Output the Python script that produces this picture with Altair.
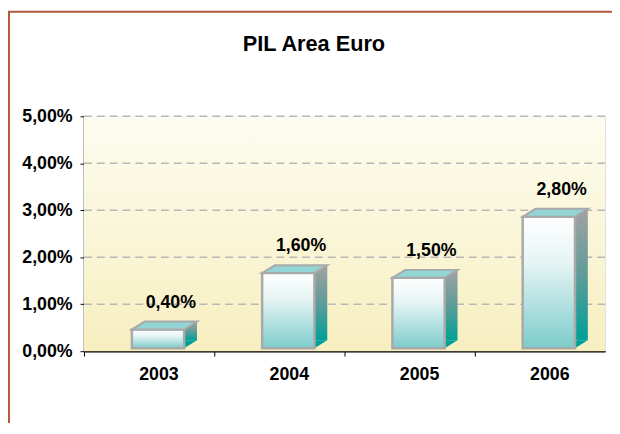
import altair as alt
import pandas as pd

years = ["2003", "2004", "2005", "2006"]
values = [0.40, 1.60, 1.50, 2.80]
value_labels = ["0,40%", "1,60%", "1,50%", "2,80%"]
y_ticks = [0, 1, 2, 3, 4, 5]

df = pd.DataFrame({"year": years, "v": values, "lab": value_labels})
grid_df = pd.DataFrame({"v": y_ticks[1:]})

FONT = "Liberation Sans"
STROKE = "#a9a9a9"

x_enc = alt.X(
    "year:N", sort=years,
    scale=alt.Scale(paddingInner=0, paddingOuter=0),
    axis=alt.Axis(title=None, bandPosition=0, labelOffset=10, labelAngle=0,
                  labelFontSize=18, labelFontWeight="bold", labelFont=FONT,
                  labelColor="black", domainColor="black", domainWidth=1.5,
                  tickColor="black", tickSize=5, labelPadding=10, grid=False),
)
y_enc = alt.Y(
    "v:Q",
    scale=alt.Scale(domain=[0, 5], nice=False),
    axis=alt.Axis(title=None, values=y_ticks,
                  labelExpr="replace(format(datum.value, '.2f'), '.', ',') + '%'",
                  labelFontSize=18, labelFontWeight="bold", labelFont=FONT,
                  labelColor="black", domainColor="black", domainWidth=1.5,
                  tickColor="black", tickSize=4, labelPadding=8, grid=False),
)

front_grad = alt.LinearGradient(
    gradient="linear", x1=0, x2=0, y1=0, y2=1,
    stops=[alt.GradientStop(offset=0, color="#ffffff"),
           alt.GradientStop(offset=0.35, color="#e6f4f4"),
           alt.GradientStop(offset=1, color="#7ccccb")],
)
side_grad = alt.LinearGradient(
    gradient="linear", x1=0, x2=0, y1=0, y2=1,
    stops=[alt.GradientStop(offset=0, color="#a2a2a2"),
           alt.GradientStop(offset=0.5, color="#5f9c99"),
           alt.GradientStop(offset=1, color="#00a098")],
)
bg_grad = alt.LinearGradient(
    gradient="linear", x1=0, x2=0, y1=0, y2=1,
    stops=[alt.GradientStop(offset=0, color="#fdfcf0"),
           alt.GradientStop(offset=1, color="#f7efc0")],
)

TOP_FACE = "M0,0 L53,0 L66,-8 L13,-8 Z"
SIDE_FOOT = "M0,0 L0,-8 L13,-8 Z"

base = alt.Chart(df)

bg = alt.Chart(pd.DataFrame({"b": [0]})).mark_rect(color=bg_grad).encode(
    x=alt.value(0), x2=alt.value("width"), y=alt.value(0), y2=alt.value("height"))

grid = alt.Chart(grid_df).mark_rule(color="#b8b8b8", strokeWidth=1.5,
                                    strokeDash=[8, 5]).encode(
    y=y_enc, x=alt.value(0), x2=alt.value("width"))

side = base.mark_bar(width=13, xOffset=42, yOffset=-11, y2Offset=-11,
                     color=side_grad, strokeWidth=0).encode(
    x=x_enc, y=y_enc, y2=alt.datum(0))

foot = base.mark_point(shape=SIDE_FOOT, size=4, filled=True, fill="#00a098",
                       strokeWidth=0, opacity=1, xOffset=35.5, yOffset=-3).encode(
    x=x_enc, y=alt.datum(0))

front = base.mark_bar(width=53, xOffset=9, yOffset=-3, y2Offset=-3,
                      color=front_grad, stroke=STROKE, strokeWidth=2.5).encode(
    x=x_enc, y=y_enc, y2=alt.datum(0))

top = base.mark_point(shape=TOP_FACE, size=4, filled=True, fill="#93d4d4",
                      stroke=STROKE, strokeWidth=2, opacity=1,
                      xOffset=-17.5, yOffset=-3).encode(
    x=x_enc, y=y_enc)

text = base.mark_text(dx=22, dy=-30, baseline="middle", fontSize=18,
                      fontWeight="bold", font=FONT, color="black").encode(
    x=x_enc, y=y_enc, text="lab:N")

border = alt.Chart(pd.DataFrame({"b": [0]})).mark_rect(
    fill="transparent", stroke="#b35a3c", strokeWidth=2, clip=False).encode(
    x=alt.value(-76), x2=alt.value(700), y=alt.value(-106), y2=alt.value(700))

chart = alt.layer(bg, grid, side, foot, front, top, text, border).properties(
    width=528, height=238,
    autosize="none",
    padding={"left": 77, "top": 107, "right": 7, "bottom": 70},
    title=alt.TitleParams("PIL Area Euro", font=FONT, fontSize=22, fontWeight="bold",
                          color="black", anchor="middle", frame="group",
                          dx=-31, dy=46, offset=0),
).configure_view(stroke=None).configure(background="white")

chart.save("out.html", embed_options={"renderer": "svg", "actions": False})
